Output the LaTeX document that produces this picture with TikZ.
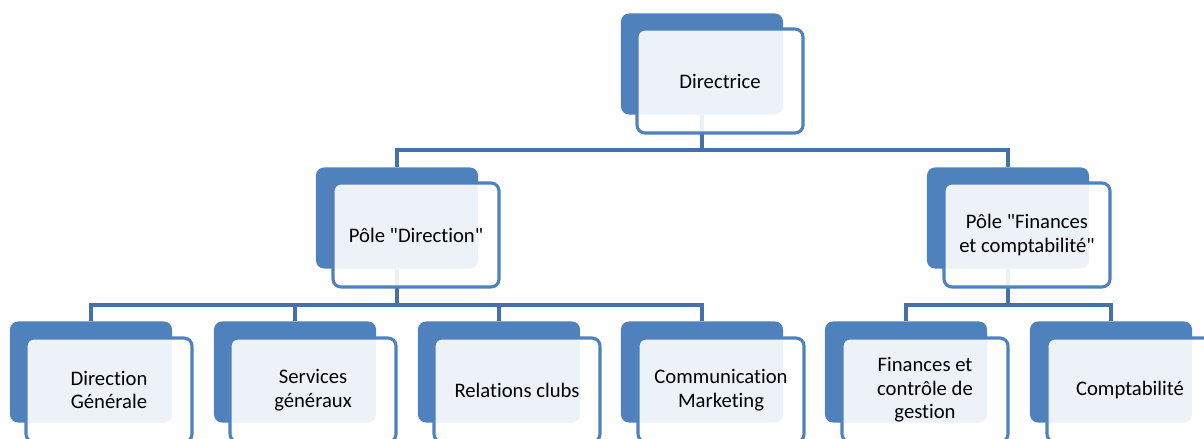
\documentclass[tikz,border=0pt]{standalone}
\usepackage{fontspec}
\setmainfont{Carlito}[Ligatures={TeXOff,NoCommon}]

\definecolor{boxblue}{RGB}{79,129,189}
\definecolor{linkblue}{RGB}{68,113,167}

\begin{document}
\begin{tikzpicture}[x=0.025cm, y=-0.025cm]

\tikzset{back/.style = {shape=rectangle, rounded corners=0.2cm, fill=boxblue, inner sep=0pt, minimum width=4.05cm, minimum height=2.525cm}}
\tikzset{front/.style = {shape=rectangle, rounded corners=0.2cm, draw=boxblue, line width=2.2pt, fill=white, fill opacity=0.9, text opacity=1, inner sep=0pt, minimum width=4.15cm, minimum height=2.6cm, align=center, font=\fontsize{14.7}{16.6}\selectfont}}
\tikzset{link/.style = {draw=linkblue, line width=2.3pt}}

\useasboundingbox (0,0) rectangle (1204,439);

% back boxes
\node[back] (dir-b) at (702,64) {};
\node[back] (pd-b) at (397,218) {};
\node[back] (pf-b) at (1008,218) {};
\node[back] (dg-b) at (91,372) {};
\node[back] (sg-b) at (295,372) {};
\node[back] (rc-b) at (499,372) {};
\node[back] (cm-b) at (702,372) {};
\node[back] (fc-b) at (906,372) {};
\node[back] (co-b) at (1111,372) {};

%links
\draw[link] (dir-b.south) -- (dir-b.south |- 0,150) -| (pd-b.north);
\draw[link] (dir-b.south) -- (dir-b.south |- 0,150) -| (pf-b.north);
\draw[link] (pd-b.south) -- (pd-b.south |- 0,305) -| (dg-b.north);
\draw[link] (pd-b.south) -- (pd-b.south |- 0,305) -| (sg-b.north);
\draw[link] (pd-b.south) -- (pd-b.south |- 0,305) -| (rc-b.north);
\draw[link] (pd-b.south) -- (pd-b.south |- 0,305) -| (cm-b.north);
\draw[link] (pf-b.south) -- (pf-b.south |- 0,305) -| (fc-b.north);
\draw[link] (pf-b.south) -- (pf-b.south |- 0,305) -| (co-b.north);

% front boxes
\node[front] (dir) at (720,81) {Directrice};
\node[front] (pd) at (416,235) {Pôle "Direction"};
\node[front] (pf) at (1027,235) {Pôle "Finances\\ et comptabilité"};
\node[front] (dg) at (109,390) {Direction\\ Générale};
\node[front] (sg) at (313,390) {Services\\ généraux};
\node[front] (rc) at (517,390) {Relations clubs};
\node[front] (cm) at (721,390) {Communication\\ Marketing};
\node[front] (fc) at (925,390) {Finances et\\ contrôle de\\ gestion};
\node[front] (co) at (1130,390) {Comptabilité};

\end{tikzpicture}
\end{document}
